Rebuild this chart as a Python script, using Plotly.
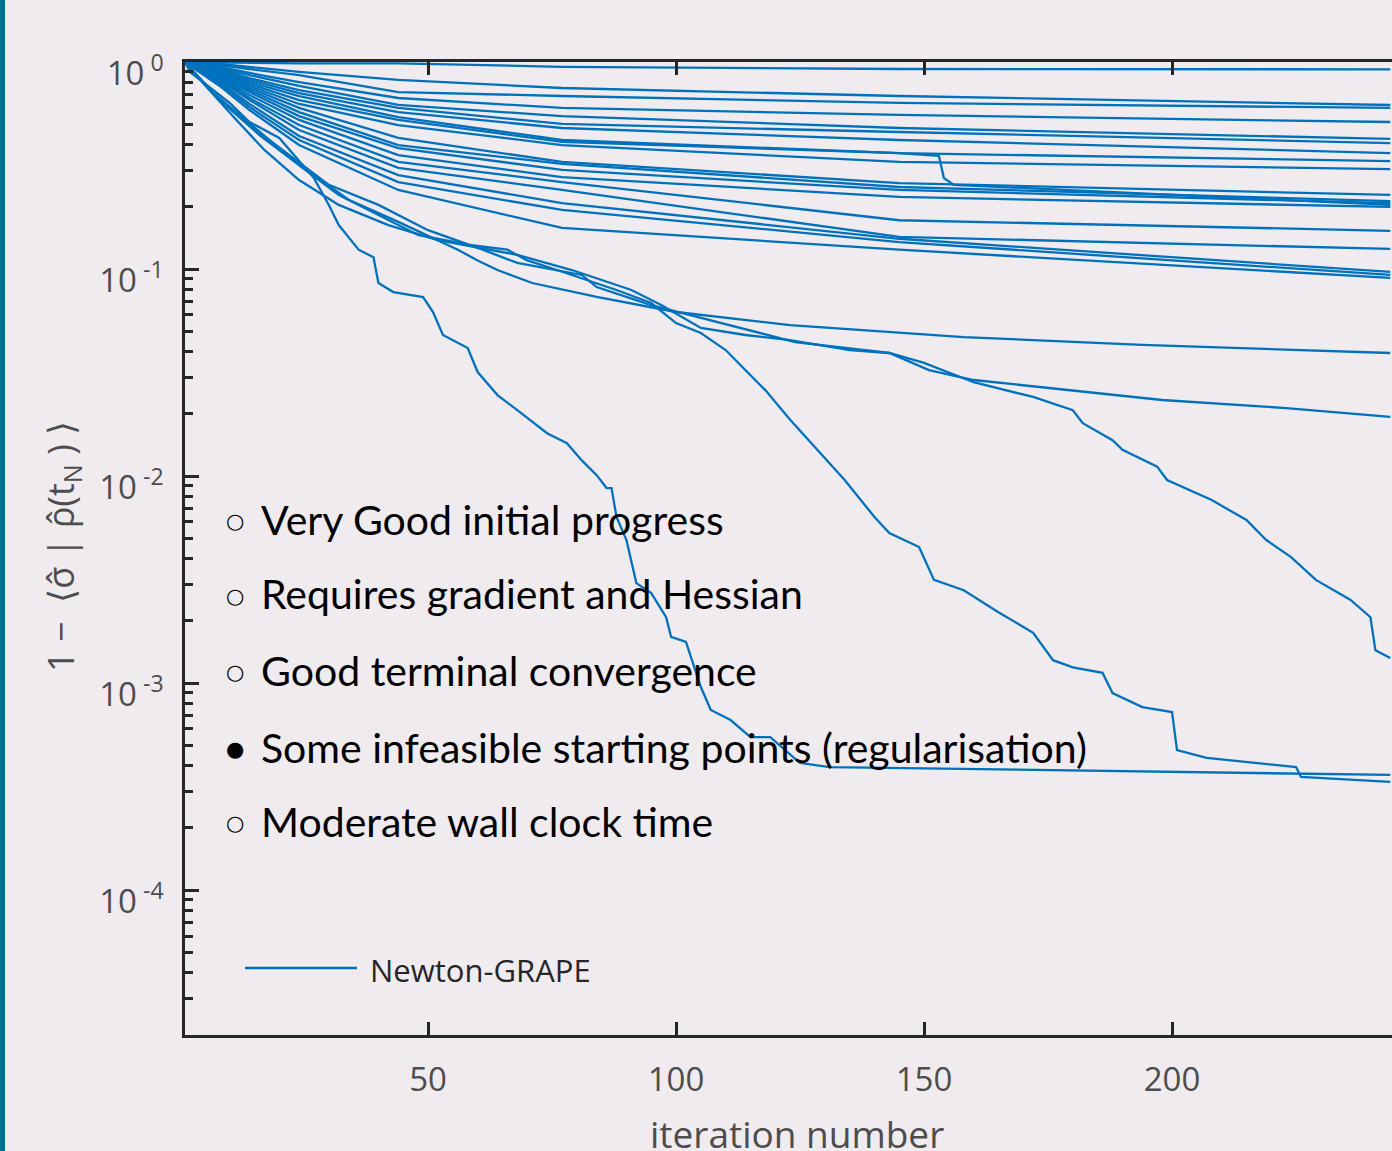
import plotly.graph_objects as go

# ---------------- data ----------------
FLAT_ITER = [1, 8, 14, 24, 44, 77, 145, 244]
flat_f01 = [1.0, 0.995, 0.99, 0.985, 0.985, 0.948, 0.925, 0.922]
flat_f02 = [1.0, 0.978, 0.946, 0.895, 0.819, 0.749, 0.685, 0.620]
flat_f03 = [1.0, 0.967, 0.925, 0.865, 0.716, 0.685, 0.634, 0.600]
flat_f04 = [1.0, 0.946, 0.885, 0.800, 0.670, 0.600, 0.555, 0.513]
flat_f05 = [1.0, 0.935, 0.865, 0.766, 0.620, 0.548, 0.480, 0.425]
flat_f06 = [1.0, 0.925, 0.837, 0.732, 0.600, 0.502, 0.459, 0.406]
flat_f07 = [1.0, 0.915, 0.819, 0.708, 0.573, 0.480, 0.420, 0.363]
flat_f08 = [1.0, 0.905, 0.800, 0.685, 0.542, 0.420, 0.363, 0.332]
flat_f10 = [1.0, 0.885, 0.766, 0.627, 0.496, 0.397, 0.329, 0.304]
flat_f11 = [1.0, 0.875, 0.749, 0.600, 0.430, 0.329, 0.260, 0.228]
flat_f12 = [1.0, 0.865, 0.732, 0.573, 0.397, 0.322, 0.249, 0.213]
flat_f13 = [1.0, 0.856, 0.716, 0.548, 0.384, 0.301, 0.241, 0.208]
flat_f14 = [1.0, 0.846, 0.693, 0.525, 0.355, 0.278, 0.223, 0.1995]
flat_f15 = [1.0, 0.837, 0.670, 0.496, 0.329, 0.263, 0.172, 0.153]
flat_f16 = [1.0, 0.819, 0.655, 0.469, 0.308, 0.241, 0.143, 0.125]
flat_f17 = [1.0, 0.800, 0.627, 0.439, 0.284, 0.208, 0.140, 0.0968]
flat_f18 = [1.0, 0.783, 0.606, 0.420, 0.263, 0.193, 0.135, 0.0936]
flat_f19 = [1.0, 0.766, 0.586, 0.397, 0.241, 0.158, 0.124, 0.0906]

f09_iter = [1, 8, 14, 24, 44, 77, 145, 153, 154, 156, 244]
f09_val = [1.0, 0.895, 0.783, 0.655, 0.525, 0.411, 0.363, 0.352, 0.275, 0.255, 0.204]

t1_iter = [1, 8, 16, 24, 34, 44, 56, 60, 64, 71, 84, 100, 123, 158, 194, 244]
t1_val = [1.0, 0.655, 0.444, 0.318, 0.216, 0.169, 0.124, 0.110, 0.0989, 0.0856,
          0.0733, 0.062, 0.0536, 0.0469, 0.043, 0.0393]

t2_iter = [1, 7, 14, 22, 30, 40, 50, 61, 68, 81, 84, 95, 105, 117, 124, 143, 151,
           160, 180, 198, 223, 244]
t2_val = [1.0, 0.693, 0.496, 0.355, 0.255, 0.204, 0.154, 0.124, 0.107, 0.0936,
          0.0818, 0.067, 0.058, 0.0491, 0.0444, 0.0393, 0.0325, 0.0291, 0.026,
          0.0233, 0.0213, 0.0193]

s1_iter = [1, 2, 10, 14, 20, 27, 30, 32, 36, 39, 40, 43, 49, 51, 53, 58, 60, 64, 68,
           74, 78, 81, 84, 86, 87, 88, 90, 92, 95, 98, 99, 102, 105, 107, 111, 115,
           119, 125, 131, 244]
s1_val = [1.0, 0.895, 0.634, 0.513, 0.43, 0.275, 0.204, 0.163, 0.124, 0.114, 0.0855,
          0.0774, 0.0732, 0.062, 0.048, 0.0415, 0.0318, 0.0246, 0.0208, 0.0161,
          0.0144, 0.0119, 0.0101, 0.00875, 0.00875, 0.00634, 0.00491, 0.00304,
          0.00272, 0.00208, 0.00167, 0.00158, 9.57e-4, 7.41e-4, 6.63e-4, 5.48e-4,
          5.48e-4, 4.11e-4, 3.93e-4, 3.6e-4]

s2_iter = [1, 6, 12, 18, 24, 32, 40, 48, 58, 66, 70, 76, 88, 95, 100, 105, 110, 114,
           118, 123, 128, 134, 140, 143, 149, 152, 158, 165, 172, 176, 180, 186, 188,
           194, 200, 201, 207, 225, 226, 244]
s2_val = [1.0, 0.732, 0.555, 0.420, 0.318, 0.228, 0.182, 0.146, 0.131, 0.124, 0.110,
          0.0989, 0.0792, 0.0685, 0.0548, 0.0491, 0.0406, 0.0325, 0.026, 0.0187,
          0.0138, 0.00957, 0.00634, 0.00531, 0.00454, 0.00315, 0.00281, 0.0022,
          0.00175, 0.00129, 0.00119, 0.00112, 8.95e-4, 7.66e-4, 7.24e-4, 4.74e-4,
          4.35e-4, 3.93e-4, 3.52e-4, 3.33e-4]

s3_iter = [1, 5, 11, 17, 24, 32, 42, 52, 68, 79, 91, 97, 105, 114, 123, 135, 143, 150,
           160, 172, 180, 182, 188, 190, 197, 199, 208, 215, 219, 224, 229, 236, 240,
           241, 244]
s3_val = [1.0, 0.774, 0.536, 0.376, 0.269, 0.204, 0.163, 0.138, 0.117, 0.0989,
          0.0792, 0.067, 0.0519, 0.048, 0.0454, 0.0406, 0.0393, 0.0352, 0.0284,
          0.0241, 0.0208, 0.018, 0.0149, 0.0134, 0.0111, 0.00957, 0.00766, 0.00613,
          0.00491, 0.00406, 0.00315, 0.00252, 0.00208, 0.00144, 0.00132]

X_TICKS = [50, 100, 150, 200]
Y_TICKS = [1e-4, 1e-3, 1e-2, 1e-1, 1]
Y_TICK_TEXT = ["10<sup> -4</sup>", "10<sup> -3</sup>", "10<sup> -2</sup>",
               "10<sup> -1</sup>", "10<sup> 0</sup>"]
LEGEND_NAME = "Newton-GRAPE"
BULLET_MARKS = ["○", "○", "○", "●", "○"]
BULLET_TEXTS = ["Very Good initial progress",
                "Requires gradient and Hessian",
                "Good terminal convergence",
                "Some infeasible starting points (regularisation)",
                "Moderate wall clock time"]

# ---------------- layout geometry ----------------
W, H = 1392, 1151
ML, MT, MB = 185, 62, 116
PW = W - ML
PH = H - MT - MB
BG = "#EFEBEF"
LINE = "#0072BD"
AX = "#262626"
LAB = "#4D4D4D"


def px_x(p):
    return (p - ML) / PW


def px_y(p):
    return (H - MB - p) / PH


series = [(FLAT_ITER, v) for v in (flat_f01, flat_f02, flat_f03, flat_f04, flat_f05,
                                   flat_f06, flat_f07, flat_f08, flat_f10, flat_f11,
                                   flat_f12, flat_f13, flat_f14, flat_f15, flat_f16,
                                   flat_f17, flat_f18, flat_f19)]
series += [(f09_iter, f09_val), (t1_iter, t1_val), (t2_iter, t2_val),
           (s1_iter, s1_val), (s2_iter, s2_val), (s3_iter, s3_val)]

fig = go.Figure()
for xs, ys in series:
    fig.add_trace(go.Scatter(x=xs, y=ys, mode="lines",
                             line=dict(color=LINE, width=2.3),
                             showlegend=False, hoverinfo="skip"))

tickfont = dict(family="Open Sans", size=33, color=LAB)
fig.update_layout(
    width=W, height=H,
    margin=dict(l=ML, r=0, t=MT, b=MB, pad=0),
    paper_bgcolor=BG, plot_bgcolor=BG,
    xaxis=dict(range=[1, 1 + PW / 4.96], tickmode="array", tickvals=X_TICKS,
               ticktext=[str(v) for v in X_TICKS],
               ticks="inside", ticklen=13, tickwidth=2.5, tickcolor=AX,
               showline=True, mirror="ticks", linecolor=AX, linewidth=2.5,
               showgrid=False, zeroline=False, tickfont=tickfont,
               ticklabelstandoff=14),
    yaxis=dict(type="log", range=[-4.70, 0], tickmode="array", tickvals=Y_TICKS,
               ticktext=Y_TICK_TEXT,
               ticks="inside", ticklen=14, tickwidth=2.5, tickcolor=AX,
               showline=True, mirror=False, linecolor=AX, linewidth=2.5,
               showgrid=False, zeroline=False, tickfont=tickfont,
               ticklabelstandoff=12, ticklabelshift=11,
               minor=dict(ticks="inside", ticklen=8, tickwidth=2.5,
                          tickcolor=AX, dtick="D1", showgrid=False)),
)

shapes = [
    dict(type="rect", xref="paper", yref="paper",
         x0=px_x(0), x1=px_x(5), y0=px_y(H), y1=px_y(0),
         fillcolor="#006E8C", line=dict(width=0), layer="above"),
    dict(type="line", xref="paper", yref="paper",
         x0=px_x(245), x1=px_x(357), y0=px_y(968), y1=px_y(968),
         line=dict(color=LINE, width=2.3)),
]
fig.update_layout(shapes=shapes)

ann = []
ann.append(dict(text="iteration number", xref="paper", yref="paper",
                x=px_x(797), y=px_y(1133), xanchor="center", yanchor="middle",
                showarrow=False, font=dict(family="Open Sans", size=37, color=LAB)))
ann.append(dict(text="1 −  ⟨σ̂ | ρ̂(t<sub>N</sub> ) ⟩", xref="paper", yref="paper",
                x=px_x(62), y=px_y(547), xanchor="center", yanchor="middle",
                textangle=-90, showarrow=False,
                font=dict(family="Open Sans", size=36, color=LAB)))
ann.append(dict(text=LEGEND_NAME, xref="paper", yref="paper",
                x=px_x(368), y=px_y(970), xanchor="left", yanchor="middle",
                showarrow=False, font=dict(family="Open Sans", size=31, color=AX)))
row_y = [519, 594, 670, 747, 821]
for mark, txt, yc in zip(BULLET_MARKS, BULLET_TEXTS, row_y):
    ann.append(dict(text=mark, xref="paper", yref="paper",
                    x=px_x(235), y=px_y(yc + 2), xanchor="center", yanchor="middle",
                    showarrow=False, font=dict(family="DejaVu Sans", size=21, color="black")))
    ann.append(dict(text=txt, xref="paper", yref="paper",
                    x=px_x(259), y=px_y(yc), xanchor="left", yanchor="middle",
                    showarrow=False, font=dict(family="Lato", size=41, color="black")))
fig.update_layout(annotations=ann)

fig.write_html("out.html", config={"displayModeBar": False})
